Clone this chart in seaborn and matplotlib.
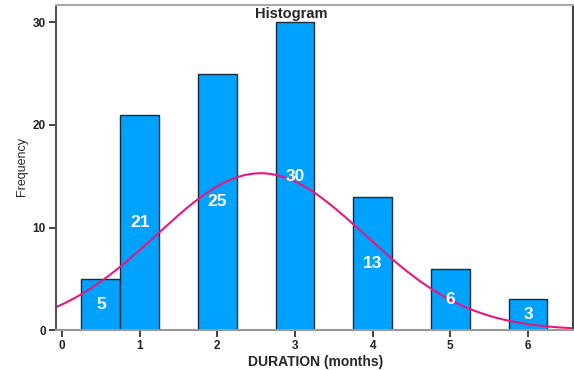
import numpy as np
import pandas as pd
import matplotlib
matplotlib.use("Agg")
import matplotlib.pyplot as plt
import seaborn as sns

# Data
durations = [0.5, 1, 2, 3, 4, 5, 6]
counts = [5, 21, 25, 30, 13, 6, 3]
x_ticks = [0, 1, 2, 3, 4, 5, 6]
y_ticks = [0, 10, 20, 30]
bin_width = 0.5

sns.set_theme(style="white")
plt.rcParams['font.family'] = ['Liberation Sans', 'DejaVu Sans']

df = pd.DataFrame({"DURATION": durations, "count": counts})

fig = plt.figure(figsize=(5.74, 3.70), dpi=100)
ax = fig.add_axes([0.0967, 0.108, 0.9013, 0.8785])

sns.histplot(data=df, x="DURATION", weights="count", binwidth=bin_width,
             binrange=(0.25, 6.25), ax=ax,
             color="#00A2FF", alpha=1, edgecolor="#1a2a3a", linewidth=1.0)

# Normal curve fitted to the data (as SPSS does)
vals = np.repeat(durations, counts)
mu, sd = vals.mean(), vals.std(ddof=1)
xs = np.linspace(-0.1, 6.6, 300)
ys = len(vals) * bin_width * np.exp(-(xs - mu) ** 2 / (2 * sd ** 2)) / (sd * np.sqrt(2 * np.pi))
sns.lineplot(x=xs, y=ys, ax=ax, color="#E8177D", linewidth=1.5)

for x, c in zip(durations, counts):
    ax.text(x, c / 2, str(c), ha="center", va="center", color="white",
            fontsize=12.5, fontweight="bold")

ax.set_xlim(-0.084, 6.577)
ax.set_ylim(0, 31.7)
ax.set_xticks(x_ticks)
ax.set_yticks(y_ticks)
ax.tick_params(axis="both", which="both", direction="out", length=5, width=1.2,
               colors="#222222", labelsize=8.5, bottom=True, left=True, pad=2)
for lab in ax.get_xticklabels() + ax.get_yticklabels():
    lab.set_fontweight("bold")

ax.set_xlabel("DURATION (months)", fontsize=10, fontweight="bold", va="center")
ax.xaxis.set_label_coords(0.502, -0.097)
ax.set_ylabel("Frequency", fontsize=9, va="center")
ax.yaxis.set_label_coords(-0.064, 0.503)
ax.text(0.455, 0.995, "Histogram", transform=ax.transAxes, ha="center", va="top",
        fontsize=10.5, fontweight="bold")

ax.spines["left"].set_color("#555555")
ax.spines["right"].set_color("#444444")
ax.spines["top"].set_color("#aaaaaa")
ax.spines["bottom"].set_color("#999999")
for s in ax.spines.values():
    s.set_linewidth(1.5)

fig.savefig("out.png", dpi=100)
